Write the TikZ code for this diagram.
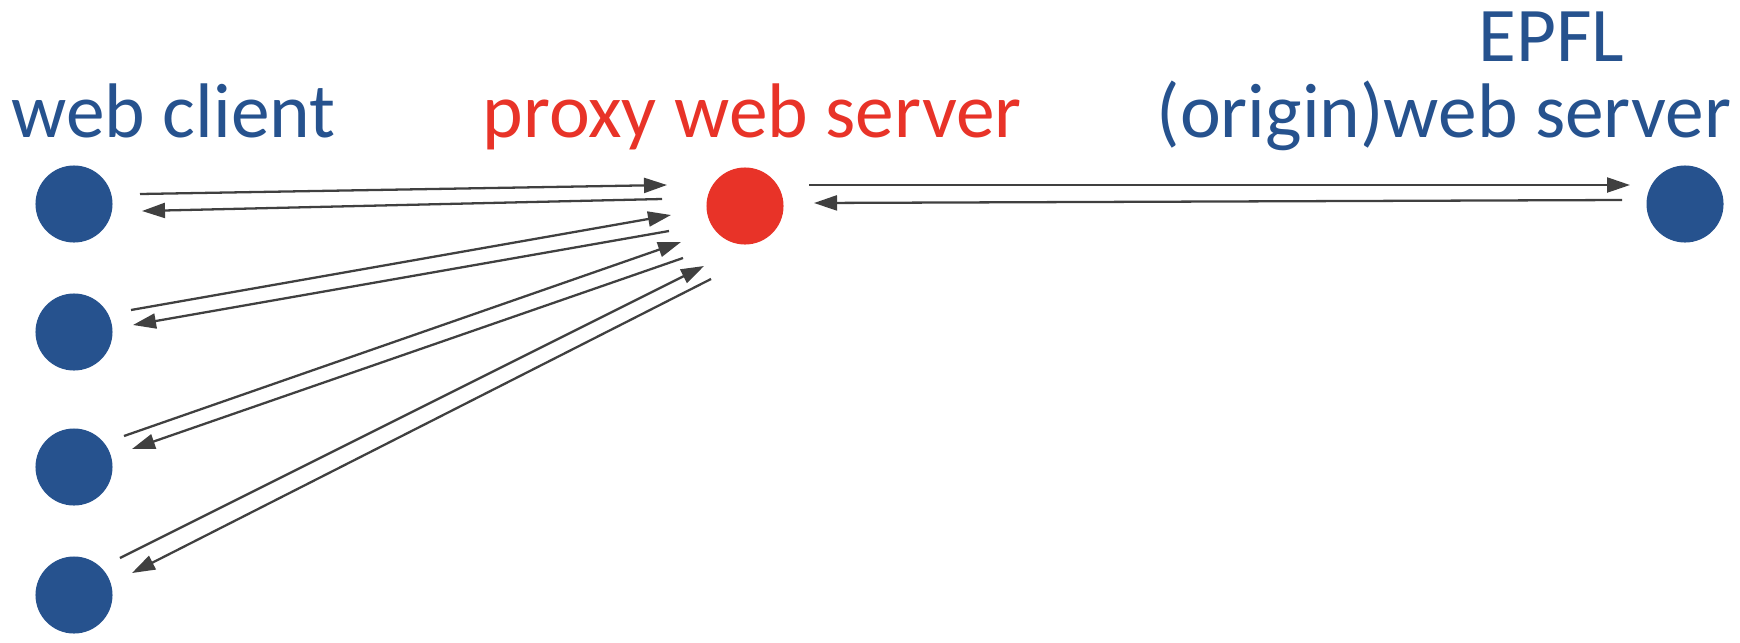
\documentclass[tikz,border=0pt]{standalone}
\usepackage{fontspec}
\setmainfont{Carlito}
\usepackage{tikz}
\usetikzlibrary{calc,positioning,arrows.meta}
\definecolor{hostblue}{RGB}{38,82,142}
\definecolor{proxyred}{RGB}{232,51,40}
\definecolor{msggray}{RGB}{64,64,64}
\tikzset{
    host/.style={
      circle,
      fill=hostblue,
      inner sep=0pt,
      minimum size=0.77cm},
    proxyhost/.style={host, fill=proxyred},
    msg/.style={draw=msggray, line width=0.65pt,
      -{Triangle[length=0.23cm,width=0.15cm]}},
    hostlabel/.style={anchor=base west, inner sep=0pt,
      text=hostblue, font=\fontsize{22}{26}\selectfont},
}

\begin{document}
\begin{tikzpicture}[x=0.01cm,y=-0.01cm]
        \useasboundingbox (0,0) rectangle (1740,642);
        % hosts
        \node[host] (client1) at (74,204) {};
        \node[host] (client2) at (74,332) {};
        \node[host] (client3) at (74,467) {};
        \node[host] (client4) at (74,595) {};
        \node[proxyhost] (proxy) at (745,206) {};
        \node[host] (origin) at (1685,204) {};
        % labels
        \node[hostlabel] (lblclient) at (11,137) {web client};
        \node[hostlabel, text=proxyred] (lblproxy) at (482,137) {proxy web server};
        \node[hostlabel] (lblorigin) at (1156,137) {(origin)web server};
        \node[hostlabel] (lblepfl) at (1478,61) {EPFL};
        % requests and replies
        \draw[msg] ($(client1)+(66,-10)$) -- ($(proxy)+(-78,-21)$);
        \draw[msg] ($(proxy)+(-83,-7)$) -- ($(client1)+(68,7)$);
        \draw[msg] ($(client2)+(57,-22)$) -- ($(proxy)+(-74,9)$);
        \draw[msg] ($(proxy)+(-76,25)$) -- ($(client2)+(59,-7)$);
        \draw[msg] ($(client3)+(50,-31)$) -- ($(proxy)+(-64,36)$);
        \draw[msg] ($(proxy)+(-62,52)$) -- ($(client3)+(58,-18)$);
        \draw[msg] ($(client4)+(46,-37)$) -- ($(proxy)+(-41,60)$);
        \draw[msg] ($(proxy)+(-34,73)$) -- ($(client4)+(58,-22)$);
        \draw[msg] ($(proxy)+(64,-21)$) -- ($(origin)+(-55,-19)$);
        \draw[msg] ($(origin)+(-63,-4)$) -- ($(proxy)+(69,-3)$);
\end{tikzpicture}
\end{document}
